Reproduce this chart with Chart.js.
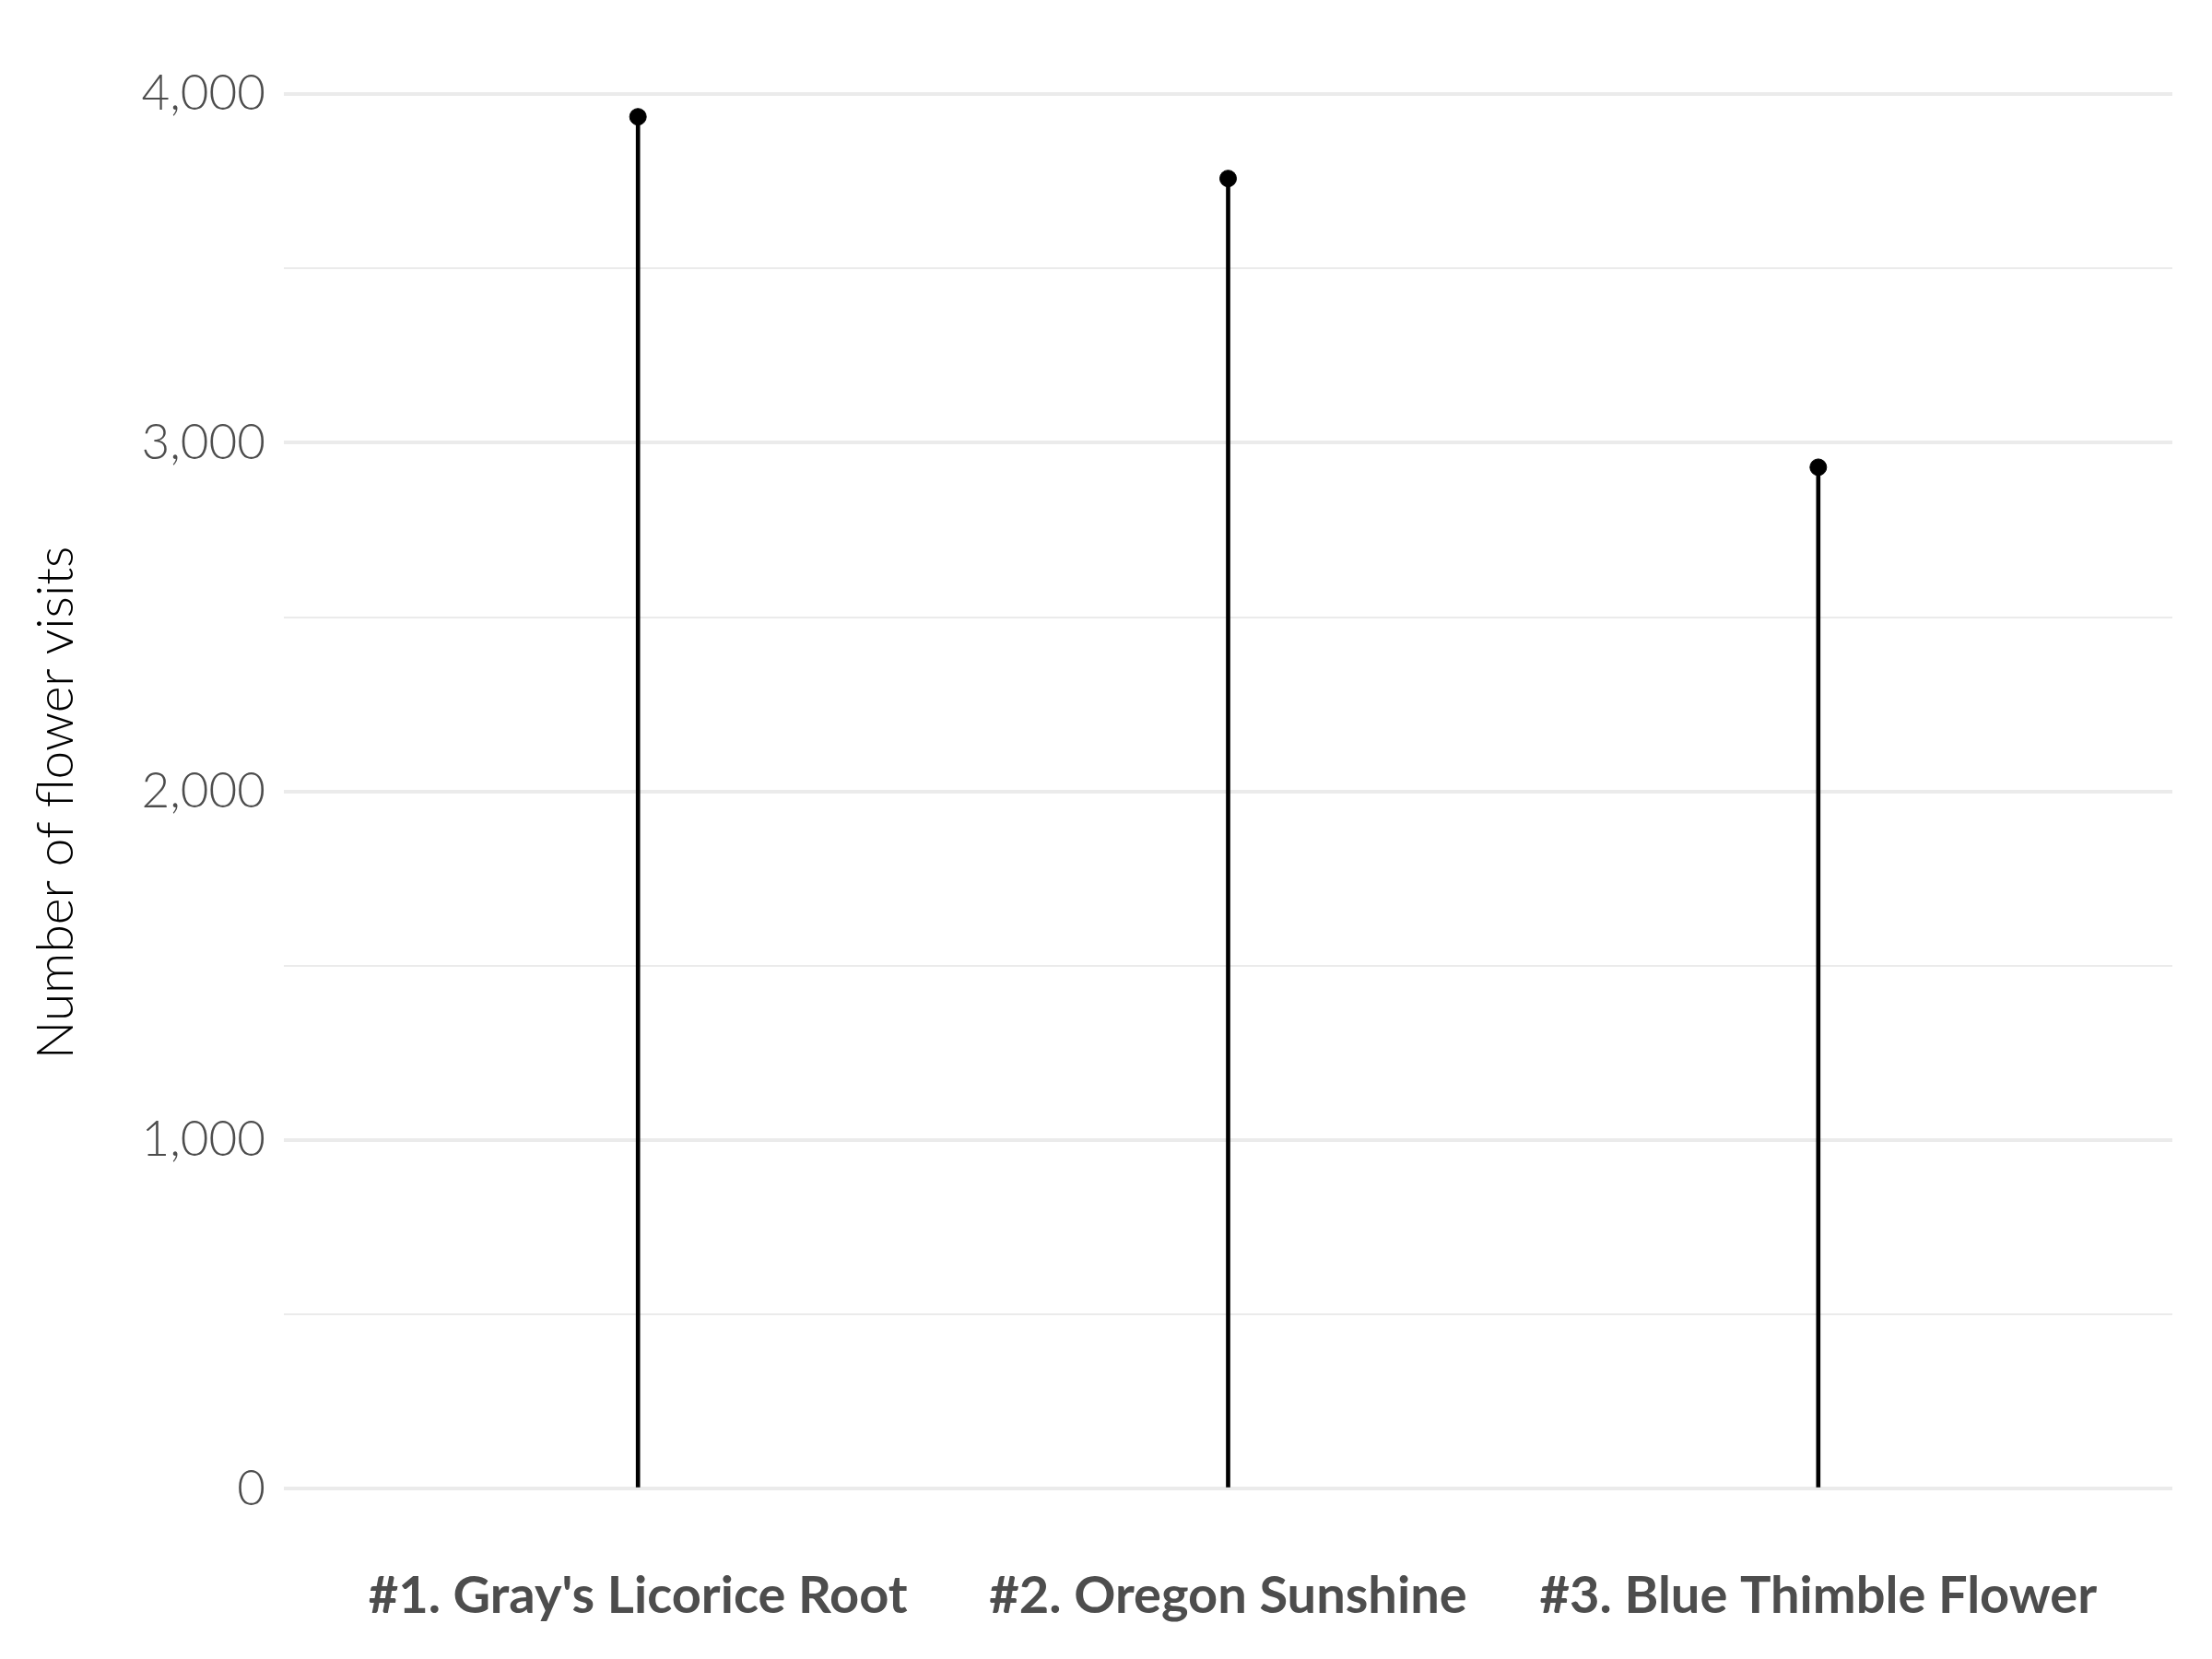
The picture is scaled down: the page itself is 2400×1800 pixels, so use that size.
<!DOCTYPE html>
<html>
<head>
<meta charset="utf-8">
<script src="https://cdn.jsdelivr.net/npm/chart.js@4"></script>
<style>
  html, body { margin: 0; padding: 0; background: #ffffff; }
  #myChart { display: block; }
</style>
</head>
<body>
<canvas id="myChart" width="2400" height="1800"></canvas>
<script>
// Daten
const categories = ["#1. Gray's Licorice Root", "#2. Oregon Sunshine", "#3. Blue Thimble Flower"];
const visits = [3935, 3758, 2930];
const yTicks = [0, 500, 1000, 1500, 2000, 2500, 3000, 3500, 4000];
const yLabelTicks = [0, 1000, 2000, 3000, 4000];

const positions = categories.map((c, i) => i + 1);
const points = visits.map((v, i) => ({ x: positions[i], y: v }));

const ctx = document.getElementById("myChart").getContext("2d");

let chart = new Chart(ctx, {
    type: "bar",
    data: {
        datasets: [
            {
                label: "Stiele",
                data: points,
                backgroundColor: "#000000",
                barThickness: 4,
                order: 2
            },
            {
                type: "scatter",
                label: "Punkte",
                data: points,
                backgroundColor: "#000000",
                borderColor: "#000000",
                pointRadius: 9,
                pointHoverRadius: 9,
                order: 1
            }
        ]
    },
    options: {
        responsive: false,
        animation: false,
        devicePixelRatio: 1,
        layout: { padding: { top: 36, right: 43, left: 20, bottom: 0 } },
        plugins: {
            legend: { display: false },
            tooltip: { enabled: false }
        },
        scales: {
            x: {
                type: "linear",
                offset: false,
                min: 0.4,
                max: 3.6,
                afterBuildTicks: (s) => { s.ticks = positions.map(v => ({ value: v })); },
                afterFit: (s) => { s.height = 110; },
                grid: { display: false },
                border: { display: false },
                ticks: {
                    callback: (v) => categories[v - 1] || "",
                    color: "#4d4d4d",
                    font: { family: "Lato", size: 56, weight: "bold" },
                    padding: 0,
                    maxRotation: 0,
                    autoSkip: false
                }
            },
            y: {
                min: -197,
                max: 4133,
                afterBuildTicks: (s) => { s.ticks = yTicks.map(v => ({ value: v })); },
                afterFit: (s) => { s.width = 288; },
                grid: {
                    drawTicks: false,
                    color: "#ebebeb",
                    lineWidth: (c) => (yLabelTicks.includes(c.tick.value) ? 4 : 2)
                },
                border: { display: false },
                ticks: {
                    callback: (v) => yLabelTicks.includes(v) ? v.toLocaleString("en-US") : "",
                    color: "#4d4d4d",
                    font: { family: "Lato", size: 53, weight: 300 },
                    padding: 20,
                    autoSkip: false
                },
                title: {
                    display: true,
                    text: "Number of flower visits",
                    color: "#000000",
                    font: { family: "Lato", size: 55, weight: 300 },
                    padding: { top: 8, bottom: 30 }
                }
            }
        }
    }
});
</script>
</body>
</html>
